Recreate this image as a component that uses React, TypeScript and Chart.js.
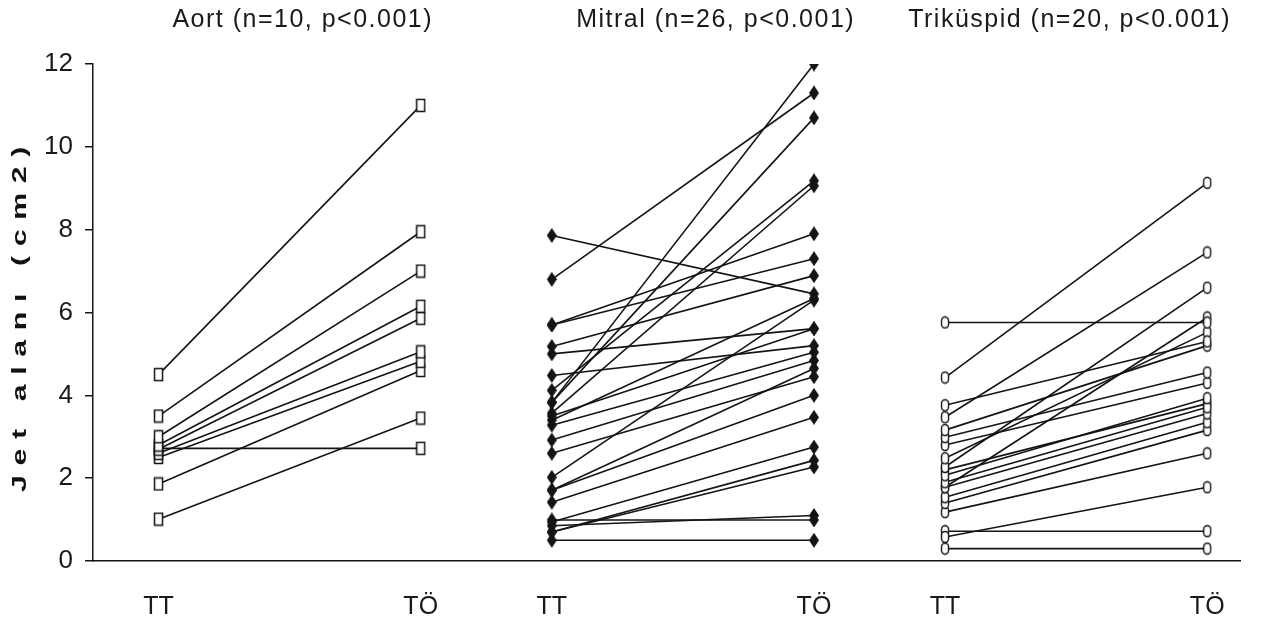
import React, { useEffect, useRef } from "react";
import { Chart, registerables } from "chart.js";

Chart.register(...registerables);

// ---- data ----
const xTickLabels = ["TT", "TÖ", "TT", "TÖ", "TT", "TÖ"];
const groupTitles = ["Aort (n=10, p<0.001)", "Mitral (n=26, p<0.001)", "Triküspid (n=20, p<0.001)"];
const yAxisTitle = "Jet alanı (cm2)";
const yTickValues = [0, 2, 4, 6, 8, 10, 12];

const aortTT = [4.5, 3.5, 3.0, 2.8, 2.7, 2.6, 2.5, 2.72, 1.86, 1.01];
const aortTO = [11.0, 7.95, 7.0, 6.15, 5.86, 5.05, 4.82, 2.72, 4.6, 3.45];

const mitralTT = [7.86, 6.8, 5.7, 5.7, 5.18, 5.0, 4.48, 4.12, 3.83, 3.83, 3.57, 3.5, 3.4, 3.28, 2.92, 2.6, 2.02, 1.71, 1.71, 1.42, 0.94, 0.7, 0.7, 0.99, 0.5, 0.85];
const mitralTO = [6.45, 11.3, 7.9, 7.3, 6.89, 5.61, 5.2, 9.18, 12.0, 10.7, 9.06, 5.61, 6.34, 5.04, 4.84, 4.45, 6.3, 4.65, 4.0, 3.47, 2.75, 2.43, 2.27, 0.99, 0.5, 1.1];

const triTT = [5.76, 4.43, 3.76, 3.47, 3.16, 2.99, 2.8, 2.48, 2.27, 2.07, 1.9, 1.78, 1.78, 1.54, 1.4, 1.18, 2.2, 0.58, 0.72, 0.3];
const triTO = [5.76, 9.13, 5.3, 7.45, 5.2, 4.55, 4.3, 5.52, 6.6, 3.93, 3.71, 5.88, 3.56, 3.35, 3.16, 2.6, 3.8, 1.78, 0.72, 0.3];

const groups = [
  { tt: aortTT, to: aortTO, marker: "square" },
  { tt: mitralTT, to: mitralTO, marker: "diamond" },
  { tt: triTT, to: triTO, marker: "round" },
];

const INK = "#141414";

function makeMarker(kind: string): HTMLCanvasElement {
  const c = document.createElement("canvas");
  const ctx = c.getContext("2d") as CanvasRenderingContext2D;
  if (kind === "square") {
    c.width = 11;
    c.height = 15;
    ctx.fillStyle = "#fff";
    ctx.fillRect(1, 1, 9, 13);
    ctx.strokeStyle = INK;
    ctx.lineWidth = 1.5;
    ctx.strokeRect(1.5, 1.5, 8, 12);
  } else if (kind === "diamond") {
    c.width = 10;
    c.height = 15;
    ctx.fillStyle = INK;
    ctx.beginPath();
    ctx.moveTo(5, 0);
    ctx.lineTo(10, 7.5);
    ctx.lineTo(5, 15);
    ctx.lineTo(0, 7.5);
    ctx.closePath();
    ctx.fill();
  } else {
    c.width = 10;
    c.height = 14;
    ctx.fillStyle = "#fff";
    ctx.strokeStyle = INK;
    ctx.lineWidth = 1.4;
    ctx.beginPath();
    (ctx as any).roundRect(1.5, 1.5, 7, 11, 3.5);
    ctx.fill();
    ctx.stroke();
  }
  return c;
}

const textPlugin = {
  id: "customTexts",
  afterDraw(chart: any) {
    const { ctx, chartArea, scales } = chart;
    const xs = scales.x;
    ctx.save();
    ctx.fillStyle = "#1a1a1a";
    ctx.textAlign = "center";
    ctx.textBaseline = "middle";
    ctx.font = '25px "Liberation Sans", Arial, sans-serif';
    (ctx as any).letterSpacing = "1.5px";
    const anchors = [1.1, 4.25, 6.95];
    groupTitles.forEach((t, i) => {
      ctx.fillText(t, xs.getPixelForValue(anchors[i]), 20);
    });
    ctx.restore();

    ctx.save();
    ctx.fillStyle = "#111";
    ctx.translate(21, (chartArea.top + chartArea.bottom) / 2 + 2);
    ctx.rotate(-Math.PI / 2);
    ctx.scale(1.6, 1.05);
    ctx.font = 'bold 19px "Liberation Sans", Arial, sans-serif';
    (ctx as any).letterSpacing = "6px";
    ctx.textAlign = "center";
    ctx.textBaseline = "middle";
    ctx.fillText(yAxisTitle, 0, 0);
    ctx.restore();
  },
};

export default function App() {
  const ref = useRef<HTMLCanvasElement | null>(null);

  useEffect(() => {
    if (!ref.current) return;
    const markers: Record<string, HTMLCanvasElement> = {
      square: makeMarker("square"),
      diamond: makeMarker("diamond"),
      round: makeMarker("round"),
    };
    const datasets: any[] = [];
    groups.forEach((g, gi) => {
      g.tt.forEach((v, i) => {
        datasets.push({
          data: [
            { x: gi * 3, y: v },
            { x: gi * 3 + 2, y: g.to[i] },
          ],
          showLine: true,
          borderColor: INK,
          borderWidth: 1.6,
          backgroundColor: INK,
          pointStyle: markers[g.marker],
          pointRadius: 6,
          pointHoverRadius: 6,
        });
      });
    });

    const chart = new Chart(ref.current, {
      type: "scatter",
      data: { datasets },
      plugins: [textPlugin],
      options: {
        animation: false,
        responsive: true,
        maintainAspectRatio: false,
        events: [],
        layout: { padding: { top: 64, right: 30, left: 0, bottom: 0 } },
        plugins: { legend: { display: false }, tooltip: { enabled: false } },
        scales: {
          x: {
            type: "linear",
            min: -0.5,
            max: 8.25,
            afterBuildTicks: (scale: any) => {
              scale.ticks = [0, 2, 3, 5, 6, 8].map((v) => ({ value: v }));
            },
            afterFit: (scale: any) => {
              scale.height = 61;
            },
            grid: { display: true, drawOnChartArea: false, drawTicks: false, color: INK },
            border: { display: true, color: INK, width: 1.5 },
            ticks: {
              padding: 31,
              color: "#1a1a1a",
              font: { family: '"Liberation Sans", Arial, sans-serif', size: 25 },
              maxRotation: 0,
              autoSkip: false,
              callback: (value: any) => {
                const idx = [0, 2, 3, 5, 6, 8].indexOf(Number(value));
                return idx >= 0 ? xTickLabels[idx] : "";
              },
            },
          },
          y: {
            min: 0,
            max: 12,
            afterBuildTicks: (scale: any) => {
              scale.ticks = yTickValues.map((v) => ({ value: v }));
            },
            afterFit: (scale: any) => {
              scale.width = 93;
            },
            grid: { display: true, drawOnChartArea: false, drawTicks: true, tickLength: 8, color: INK, lineWidth: 1.5 },
            border: { display: true, color: INK, width: 1.5 },
            ticks: {
              padding: 12,
              color: "#1a1a1a",
              font: { family: '"Liberation Sans", Arial, sans-serif', size: 26 },
            },
          },
        },
      },
    } as any);
    return () => chart.destroy();
  }, []);

  return (
    <div style={{ position: "fixed", left: 0, top: 0, width: 1270, height: 622, background: "#fff" }}>
      <canvas ref={ref} />
    </div>
  );
}
